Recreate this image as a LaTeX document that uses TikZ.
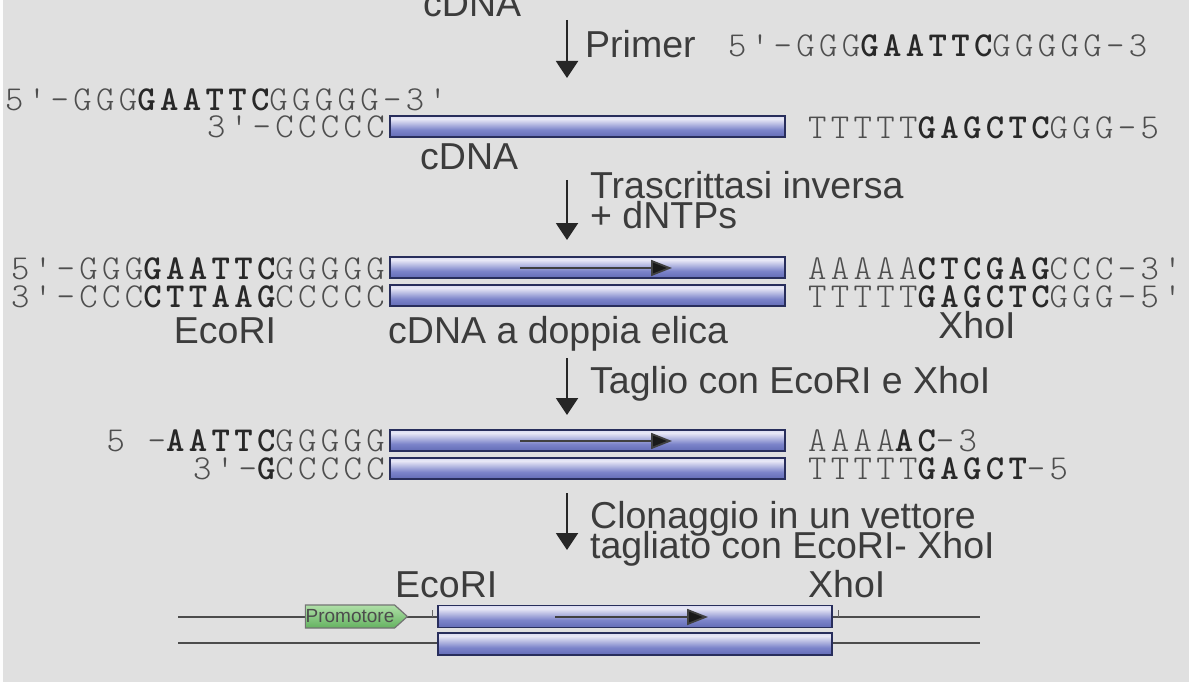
\documentclass[tikz,border=0pt]{standalone}
\usepackage{fontspec}
\setmainfont{Liberation Sans}
\newfontfamily\seqfont[LetterSpace=12.5]{Latin Modern Mono Light}
\usetikzlibrary{arrows.meta,shapes.symbols}
\definecolor{bg}{RGB}{224,224,224}
\definecolor{seqgray}{RGB}{78,78,78}
\definecolor{seqbold}{RGB}{40,40,40}
\definecolor{labc}{RGB}{60,60,60}
\definecolor{bardark}{RGB}{44,52,110}
\definecolor{barmd}{RGB}{82,92,170}
\definecolor{barmid}{RGB}{124,132,202}
\definecolor{barlight}{RGB}{232,232,246}
\definecolor{barline}{RGB}{40,46,92}
\definecolor{promoA}{RGB}{176,224,168}
\definecolor{promoB}{RGB}{100,178,96}
\pgfdeclareverticalshading{barshade}{100bp}{color(0bp)=(bardark); color(14bp)=(barmd); color(42bp)=(barmid); color(68bp)=(barlight); color(78bp)=(barlight!85!barmid); color(91bp)=(barmd); color(100bp)=(bardark)}
\newcommand{\bs}[1]{{\bfseries\color{seqbold}#1}}
\begin{document}
\begin{tikzpicture}[x=1pt,y=-1pt,
  seq/.style={font=\seqfont\fontsize{35}{40}\selectfont, text=seqgray, inner sep=0pt},
  lab/.style={font=\fontsize{37.5}{40}\selectfont, text=labc, inner sep=0pt},
  bar/.style={rectangle, shading=barshade, draw=barline, line width=1.2pt, minimum width=395pt, minimum height=21pt, inner sep=0pt},
  steparrow/.style={draw=black!85, line width=2pt, -{Triangle[length=17pt,width=22pt]}},
  innerarrow/.style={draw=black!75, line width=1.8pt, -{Triangle[length=21pt,width=16pt,fill=black!90]}},
  vecline/.style={draw=black!70, line width=1.8pt},
  tick/.style={draw=black!60, line width=1pt}]
\useasboundingbox (0,0) rectangle (1189,682);
\fill[bg] (0,0) rectangle (1189,682);
\fill[white!94!bg] (0,0) rectangle (3,682);

% top
\node[lab, anchor=base west] (cdna0) at (423,17) {cDNA};
\coordinate (s1a) at (567,20); \coordinate (s1b) at (567,78);
\draw[steparrow] (s1a) -- (s1b);
\node[lab, anchor=base west] (primer) at (585,58) {Primer};
\node[seq, anchor=base west] (primerseq) at (728,57) {5'-GGG\bs{GAATTC}GGGGG-3};

% row 2
\node[seq, anchor=base west] (r2a) at (5,111) {5'-GGG\bs{GAATTC}GGGGG-3'};
\node[seq, anchor=base east] (r2b) at (385,138) {3'-CCCCC};
\node[bar] (bar1) at (587.5,126.5) {};
\node[seq, anchor=base west] (r2c) at (808,139) {TTTTT\bs{GAGCTC}GGG-5};
\node[lab, anchor=base west] (cdna1) at (420,170) {cDNA};

\coordinate (s2a) at (567,180); \coordinate (s2b) at (567,240);
\draw[steparrow] (s2a) -- (s2b);
\node[lab, anchor=base west] (tr1) at (590,198) {Trascrittasi inversa};
\node[lab, anchor=base west] (tr2) at (590,228) {+ dNTPs};

% row 3
\node[seq, anchor=base east] (r3a) at (385,279) {5'-GGG\bs{GAATTC}GGGGG};
\node[seq, anchor=base east] (r3b) at (385,307) {3'-CCC\bs{CTTAAG}CCCCC};
\node[bar] (bar2) at (587.5,267.5) {};
\node[bar] (bar3) at (587.5,295.5) {};
\coordinate (ia1) at (520,268); \coordinate (ib1) at (672,268);
\draw[innerarrow] (ia1) -- (ib1);
\node[seq, anchor=base west] (r3c) at (808,279) {AAAAA\bs{CTCGAG}CCC-3'};
\node[seq, anchor=base west] (r3d) at (808,307) {TTTTT\bs{GAGCTC}GGG-5'};
\node[lab, anchor=base] (eco1) at (225,343) {EcoRI};
\node[lab, anchor=base west] (dh) at (388,343) {cDNA a doppia elica};
\node[lab, anchor=base] (xho1) at (977,338) {XhoI};

\coordinate (s3a) at (567,358); \coordinate (s3b) at (567,415);
\draw[steparrow] (s3a) -- (s3b);
\node[lab, anchor=base west] (tag) at (590,393) {Taglio con EcoRI e XhoI};

% row 4
\node[seq, anchor=base east] (r4a) at (385,451) {5 -\bs{AATTC}GGGGG};
\node[seq, anchor=base east] (r4b) at (385,479) {3'-\bs{G}CCCCC};
\node[bar] (bar4) at (587.5,440.5) {};
\node[bar] (bar5) at (587.5,468.5) {};
\coordinate (ia2) at (520,441); \coordinate (ib2) at (672,441);
\draw[innerarrow] (ia2) -- (ib2);
\node[seq, anchor=base west] (r4c) at (808,451) {AAAA\bs{AC}-3};
\node[seq, anchor=base west] (r4d) at (808,479) {TTTTT\bs{GAGCT}-5};

\coordinate (s4a) at (567,493); \coordinate (s4b) at (567,550);
\draw[steparrow] (s4a) -- (s4b);
\node[lab, anchor=base west] (cl1) at (590,528) {Clonaggio in un vettore};
\node[lab, anchor=base west] (cl2) at (590,558) {tagliato con EcoRI- XhoI};

% vector
\coordinate (v1a) at (178,617); \coordinate (v1b) at (980,617);
\coordinate (v2a) at (178,643); \coordinate (v2b) at (980,643);
\draw[vecline] (v1a) -- (v1b);
\draw[vecline] (v2a) -- (v2b);
\node[lab, anchor=base west] (eco2) at (395,597) {EcoRI};
\node[lab, anchor=base west] (xho2) at (808,597) {XhoI};
\coordinate (t1a) at (432,610); \coordinate (t1b) at (432,617);
\draw[tick] (t1a) -- (t1b);
\coordinate (t2a) at (838,610); \coordinate (t2b) at (838,617);
\draw[tick] (t2a) -- (t2b);
\node[signal, signal to=east, signal pointer angle=84, draw=black!55, line width=1.2pt,
      top color=promoA, bottom color=promoB, minimum height=23pt, minimum width=102pt,
      inner sep=0pt, font=\fontsize{19}{20}\selectfont, text=black!70] (promo) at (350,616.5) {Promotore\hspace{7pt}};
\node[bar, minimum width=394pt, minimum height=22pt] (bar6) at (635,616.5) {};
\node[bar, minimum width=394pt, minimum height=22pt] (bar7) at (635,644) {};
\coordinate (ia3) at (555,617); \coordinate (ib3) at (708,617);
\draw[innerarrow] (ia3) -- (ib3);
\end{tikzpicture}
\end{document}
